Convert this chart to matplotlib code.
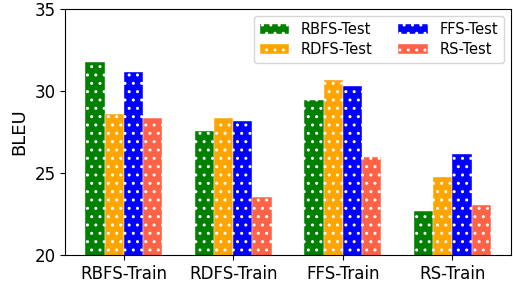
import matplotlib
matplotlib.use("Agg")
import matplotlib.pyplot as plt
import numpy as np

categories = ["RBFS-Train", "RDFS-Train", "FFS-Train", "RS-Train"]
series_names = ["RBFS-Test", "RDFS-Test", "FFS-Test", "RS-Test"]
rbfs_test = [31.75, 27.55, 29.45, 22.65]
rdfs_test = [28.6, 28.35, 30.65, 24.75]
ffs_test = [31.15, 28.2, 30.3, 26.15]
rs_test = [28.35, 23.55, 26.0, 23.05]
colors = ["green", "orange", "blue", "tomato"]

plt.rcParams['hatch.color'] = 'white'
plt.rcParams['hatch.linewidth'] = 1.0

fig = plt.figure(figsize=(5.13, 2.82), dpi=100)
ax = fig.add_axes([0.127, 0.096, 0.869, 0.872])

x = np.arange(len(categories))
w = 0.175
for i, (name, vals, c) in enumerate(zip(series_names, [rbfs_test, rdfs_test, ffs_test, rs_test], colors)):
    ax.bar(x + (i - 1.5) * w, vals, w, color=c, edgecolor='white', linewidth=0.3,
           hatch='..', label=name)

ax.set_ylim(20, 35)
ax.set_yticks([20, 25, 30, 35])
ax.set_xticks(x)
ax.set_xticklabels(categories)
ax.tick_params(labelsize=12)
ax.set_ylabel("BLEU", fontsize=13)
ax.legend(ncol=2, loc='upper right', fontsize=10.5, columnspacing=1.8,
          handlelength=2.0, labelspacing=0.35)

fig.savefig("out.png", dpi=100)
